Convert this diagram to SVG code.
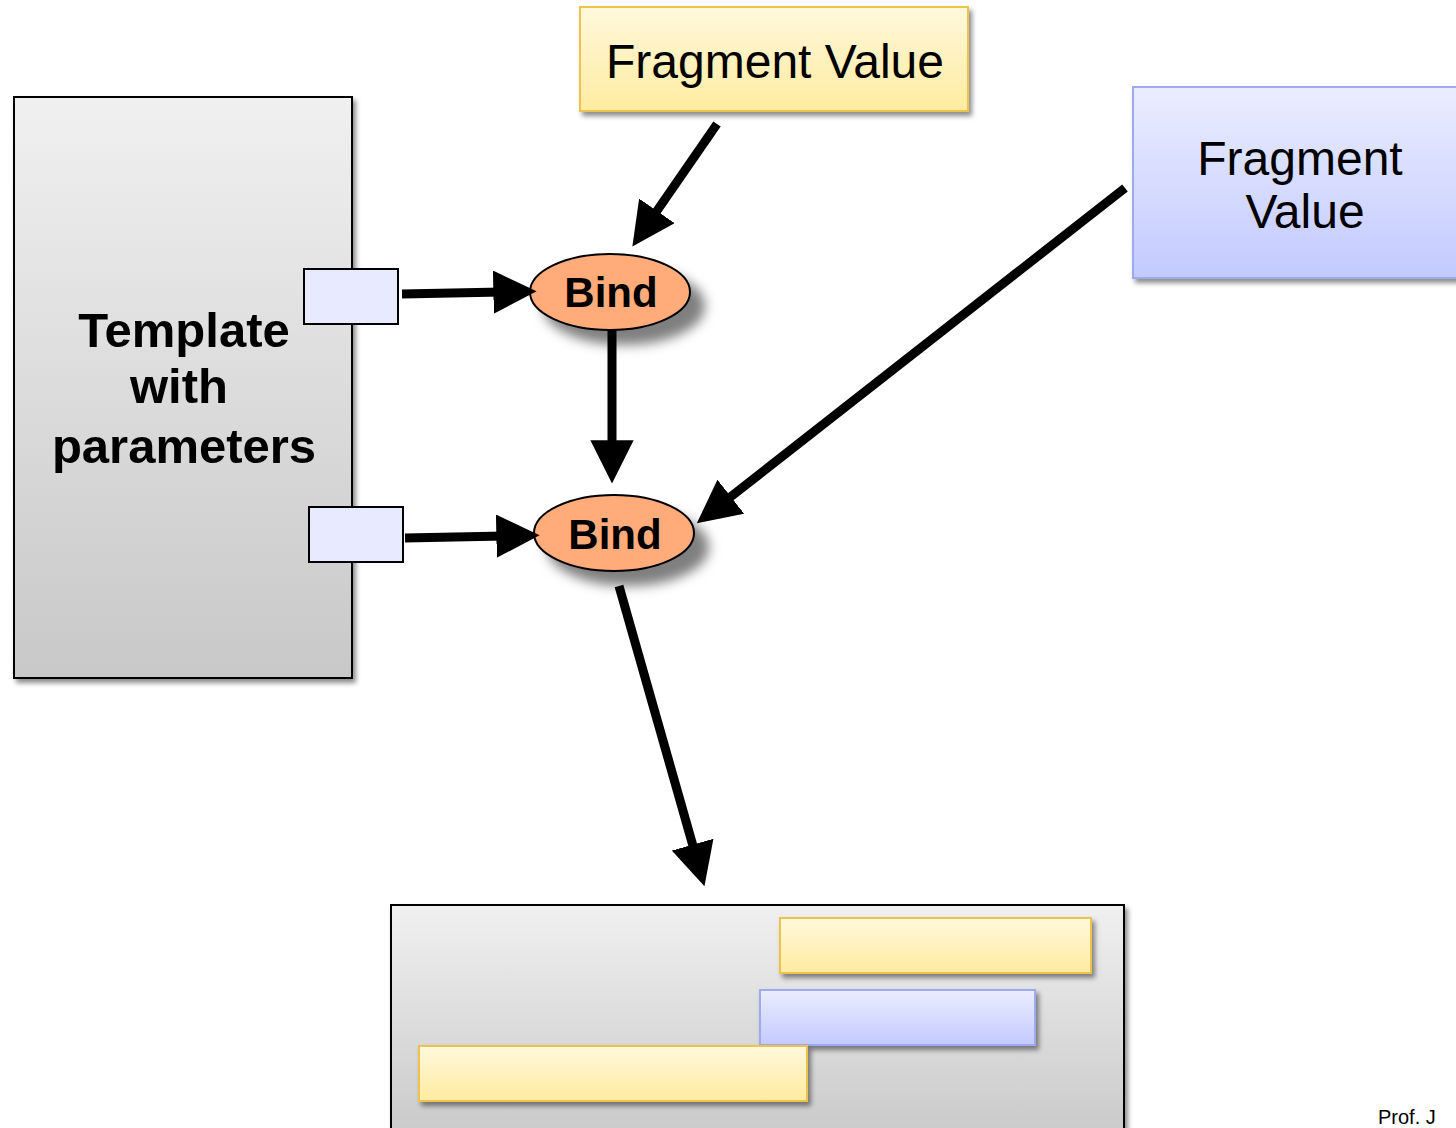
<svg xmlns="http://www.w3.org/2000/svg" width="1456" height="1128" viewBox="0 0 1456 1128">
<defs>
<linearGradient id="gGray" x1="0" y1="0" x2="0" y2="1"><stop offset="0" stop-color="#f0f0f0"/><stop offset="1" stop-color="#c8c8c8"/></linearGradient>
<linearGradient id="gYel" x1="0" y1="0" x2="0" y2="1"><stop offset="0" stop-color="#fff8dc"/><stop offset="1" stop-color="#ffeba0"/></linearGradient>
<linearGradient id="gBlue" x1="0" y1="0" x2="0" y2="1"><stop offset="0" stop-color="#eaedff"/><stop offset="1" stop-color="#c3caff"/></linearGradient>
<filter id="sh" x="-10%" y="-10%" width="130%" height="130%"><feDropShadow dx="3" dy="4" stdDeviation="2.5" flood-color="#000" flood-opacity="0.45"/></filter>
<filter id="shE" x="-20%" y="-30%" width="160%" height="180%"><feDropShadow dx="14" dy="14" stdDeviation="6" flood-color="#000" flood-opacity="0.5"/></filter>
<marker id="ah" viewBox="0 0 10 10" refX="2" refY="5" markerWidth="4.8" markerHeight="4.8" orient="auto"><path d="M0,0 L10,5 L0,10 z" fill="#000"/></marker>
<style>
.gray{fill:url(#gGray);stroke:#000;stroke-width:2;filter:url(#sh)}
.yel{fill:url(#gYel);stroke:#edc24e;stroke-width:2;filter:url(#sh)}
.blue{fill:url(#gBlue);stroke:#9eaaf0;stroke-width:2;filter:url(#sh)}
.port{fill:#e8eaff;stroke:#000;stroke-width:2}
.bind{fill:#ffab7a;stroke:#000;stroke-width:2;filter:url(#shE)}
.t{font-family:"Liberation Sans",Arial,sans-serif;fill:#000;text-anchor:middle}
.b{font-weight:bold}
.c{stroke:#000;stroke-width:9;fill:none;marker-end:url(#ah)}
</style>
</defs>
<rect width="1456" height="1128" fill="#fff"/>
<g id="template">
<rect class="gray" x="14" y="97" width="338" height="581"/>
<text class="t b" x="184" y="347" font-size="49">Template</text>
<text class="t b" x="179" y="403" font-size="49">with</text>
<text class="t b" x="184" y="463" font-size="49">parameters</text>
</g>
<g id="port1"><rect class="port" x="304" y="269" width="94" height="55"/></g>
<g id="port2"><rect class="port" x="309" y="507" width="94" height="55"/></g>
<g id="fragTop">
<rect class="yel" x="580" y="7" width="388" height="104"/>
<text class="t" x="775" y="78" font-size="48">Fragment Value</text>
</g>
<g id="fragRight">
<rect class="blue" x="1133" y="87" width="330" height="191"/>
<text class="t" x="1300" y="175" font-size="48">Fragment</text>
<text class="t" x="1305" y="228" font-size="48">Value</text>
</g>
<g id="bind1">
<ellipse class="bind" cx="610" cy="292" rx="80" ry="38"/>
<text class="t b" x="611" y="307" font-size="42">Bind</text>
</g>
<g id="bind2">
<ellipse class="bind" cx="614" cy="533" rx="80" ry="38"/>
<text class="t b" x="615" y="549" font-size="42">Bind</text>
</g>
<g id="result">
<rect class="gray" x="391" y="905" width="733" height="240"/>
<rect class="yel" x="780" y="918" width="311" height="55"/>
<rect class="blue" x="760" y="990" width="275" height="55"/>
<rect class="yel" x="419" y="1046" width="388" height="55"/>
</g>
<g id="connectors">
<line class="c" x1="717" y1="124" x2="652" y2="218"/>
<line class="c" x1="402" y1="294" x2="502" y2="292"/>
<line class="c" x1="612" y1="330" x2="612" y2="449"/>
<line class="c" x1="405" y1="538" x2="505" y2="536"/>
<line class="c" x1="1125" y1="188" x2="724" y2="502"/>
<line class="c" x1="619" y1="586" x2="695" y2="853"/>
</g>
<text class="t" x="1378" y="1124" font-size="20" style="text-anchor:start">Prof. J</text>
</svg>
